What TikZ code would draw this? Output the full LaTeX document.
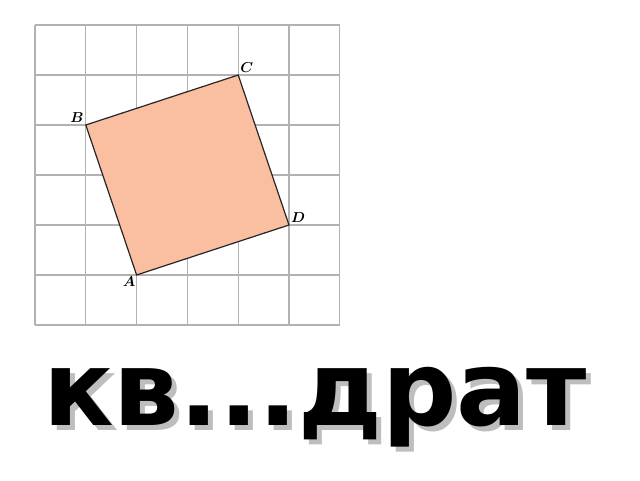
\documentclass[tikz,border=0pt]{standalone}
\usepackage{fontspec}
\newfontfamily\wordfont{DejaVu Sans}
\usepackage{xcolor}
\definecolor{gridgray}{RGB}{178,178,178}
\definecolor{peach}{RGB}{250,190,160}
\definecolor{shadowgray}{RGB}{190,190,190}

\begin{document}
\begin{tikzpicture}[x=1pt,y=1pt]
\useasboundingbox (0,0) rectangle (640,480);
\begin{scope}[shift={(35,155)},x=50.8pt,y=50pt]
\draw[gridgray, line width=1.3pt, step=1] (0,0) grid (6,6);
\coordinate (A) at (2,1);
\coordinate (B) at (1,4);
\coordinate (C) at (4,5);
\coordinate (D) at (5,2);
\filldraw[fill=peach, draw=black!85, line width=1.2pt] (A)--(D)--(C)--(B)--cycle;
\node[below left, inner sep=1pt, font=\fontsize{14}{16}\selectfont\boldmath] (la) at (A) {$A$};
\node[above left, inner sep=2pt, font=\fontsize{14}{16}\selectfont\boldmath] (lb) at (B) {$B$};
\node[above right, inner sep=2pt, font=\fontsize{14}{16}\selectfont\boldmath] (lc) at (C) {$C$};
\node[above right, inner sep=2pt, font=\fontsize{14}{16}\selectfont\boldmath] (ld) at (D) {$D$};
\end{scope}
% word with shadow
\node[anchor=base, shadowgray, inner sep=0, font=\wordfont\bfseries\fontsize{104}{110}\selectfont] (shadow) at (320,50) {кв...драт};
\node[anchor=base, black, inner sep=0, font=\wordfont\bfseries\fontsize{104}{110}\selectfont] (word) at (315,55) {кв...драт};
\end{tikzpicture}
\end{document}
